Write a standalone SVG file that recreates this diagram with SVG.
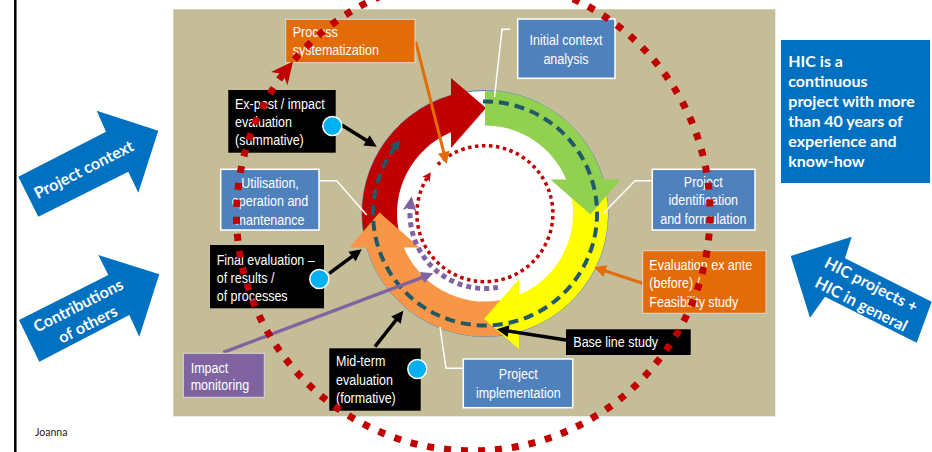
<svg xmlns="http://www.w3.org/2000/svg" width="932" height="452" viewBox="0 0 932 452">
<style>
.lb{font-family:"Liberation Sans",Arial,sans-serif;font-size:15px;fill:#fff}
.bt{font-family:Lato,"Open Sans",sans-serif;font-weight:bold;fill:#fff}
.bxb{fill:#4F81BD;stroke:#fff;stroke-width:1.5}
.bxo{fill:#E36C09;stroke:#D9D9D9;stroke-width:1}
.bxk{fill:#000}
.bxp{fill:#8064A2;stroke:#D9D9D9;stroke-width:1}
.dot{fill:#00B0F0;stroke:#fff;stroke-width:1.5}
.call{fill:none;stroke:#fff;stroke-width:1.5}
.blk{stroke:#000;stroke-width:3.5;marker-end:url(#hb)}
.org{stroke:#E36C09;stroke-width:3;marker-end:url(#ho)}
.pur{stroke:#8064A2;stroke-width:3.5;marker-end:url(#hp)}
.barrow{fill:#0070C0}
</style>
<defs>
<marker id="hb" markerUnits="userSpaceOnUse" markerWidth="14" markerHeight="14" refX="4" refY="6" orient="auto" overflow="visible"><path d="M0,0 L12,6 L0,12 Z" fill="#000"/></marker>
<marker id="ho" markerUnits="userSpaceOnUse" markerWidth="14" markerHeight="14" refX="4" refY="6" orient="auto" overflow="visible"><path d="M0,0 L12,6 L0,12 Z" fill="#E36C09"/></marker>
<marker id="hp" markerUnits="userSpaceOnUse" markerWidth="14" markerHeight="14" refX="4" refY="6" orient="auto" overflow="visible"><path d="M0,0 L12,6 L0,12 Z" fill="#8064A2"/></marker>
<marker id="ht" markerUnits="userSpaceOnUse" markerWidth="12" markerHeight="12" refX="6" refY="5" orient="auto" overflow="visible"><path d="M0,0 L10,5 L0,10 Z" fill="#215968"/></marker>
<marker id="hr" markerUnits="userSpaceOnUse" markerWidth="12" markerHeight="12" refX="5" refY="4.5" orient="auto" overflow="visible"><path d="M0,0 L9,4.5 L0,9 L2.5,4.5 Z" fill="#C00000"/></marker>
<marker id="hpd" markerUnits="userSpaceOnUse" markerWidth="16" markerHeight="16" refX="8" refY="7" orient="auto" overflow="visible"><path d="M0,0 L15,7 L0,14 L4,7 Z" fill="#8064A2"/></marker>
<marker id="hbig" markerUnits="userSpaceOnUse" markerWidth="24" markerHeight="24" refX="14" refY="10.5" orient="auto" overflow="visible"><path d="M0,0 L22,10.5 L0,21 L6,10.5 Z" fill="#C00000"/></marker>
</defs>
<rect width="932" height="452" fill="#fff"/>
<line x1="15.3" y1="0" x2="15.3" y2="452" stroke="#000" stroke-width="2.5"/>
<rect x="173.3" y="9.3" width="602" height="407" fill="#C4BD97"/>

<g id="project-context">
<polygon class="barrow" points="18.3,176.7 106,131.7 96.7,110.7 158.3,130.7 138.3,192.7 128.3,171.7 38.3,216.7"/>
<text class="bt" font-size="16" text-anchor="middle" transform="translate(84 170) rotate(-27)" y="5">Project context</text>
</g>
<g id="contributions">
<polygon class="barrow" points="19,320 108.3,275 98.3,255 159.3,274.3 139.3,336.7 129.3,315 39.3,361.7"/>
<text class="bt" font-size="16" text-anchor="middle" transform="translate(83 315) rotate(-27)"><tspan x="0" y="-5">Contributions</tspan><tspan x="0" y="16">of others</tspan></text>
</g>
<g id="hic-projects">
<polygon class="barrow" points="790.7,256 851.7,236.7 845,258.3 931.7,301.7 916.7,342.7 825,296.7 810,317.7"/>
<text class="bt" font-size="16" text-anchor="middle" transform="translate(866 295) rotate(27)"><tspan x="0" y="-6">HIC projects +</tspan><tspan x="0" y="16">HIC in general</tspan></text>
</g>
<g id="hic-box">
<rect x="781" y="40" width="149" height="143" fill="#0070C0"/>
<text class="bt" font-size="16"><tspan x="788.3" y="67">HIC is a</tspan><tspan x="788.3" y="87">continuous</tspan><tspan x="788.3" y="107">project with more</tspan><tspan x="788.3" y="127">than 40 years of</tspan><tspan x="788.3" y="147">experience and</tspan><tspan x="788.3" y="167">know-how</tspan></text>
</g>

<g id="cycle">
<circle cx="485" cy="213.5" r="123" fill="#fff" stroke="#4F81BD" stroke-width="1"/>
<path fill="#C00000" d="M364.7,239.1 A123,123 0 0 1 451,95.3 L451,78 L486,108 L451,148 L451,132.3 A88,88 0 0 0 398.9,231.8 Z"/>
<path fill="#F79646" transform="rotate(270 485 213.5)" d="M363.9,234.9 A123,123 0 0 1 451,95.3 L451,78 L486,108 L451,148 L451,132.3 A88,88 0 0 0 398.3,228.8 Z"/>
<path fill="#FFFF00" transform="rotate(180 485 213.5)" d="M363.9,234.9 A123,123 0 0 1 451,95.3 L451,78 L486,108 L451,148 L451,132.3 A88,88 0 0 0 398.3,228.8 Z"/>
<path fill="#92D050" transform="rotate(90 485 213.5)" d="M362,213.5 A123,123 0 0 1 451,95.3 L451,78 L486,108 L451,148 L451,132.3 A88,88 0 0 0 397,213.5 Z"/>
<path fill="none" stroke="#215968" stroke-width="4" stroke-dasharray="10 6" marker-end="url(#ht)" d="M483,101.5 A112,112 0 1 1 398,143"/>
<path fill="none" stroke="#C00000" stroke-width="3.5" stroke-dasharray="3.5 3.5" marker-end="url(#hr)" d="M437.8,164.6 A68,68 0 1 1 428.6,175.5"/>
<path fill="none" stroke="#8064A2" stroke-width="5" stroke-dasharray="5 4" marker-end="url(#hpd)" d="M498,287.4 A75,75 0 0 1 410.7,203.1"/>
</g>

<g id="connectors">
<polyline class="call" points="510,29.3 502,29.3 494.5,97"/>
<polyline class="call" points="652,180.7 635,180.7 603.3,213.3"/>
<polyline class="call" points="463,368.3 446,368.3 440,327"/>
<polyline class="call" points="320,180.7 336.7,180.7 366.7,215"/>
<line class="org" x1="415.7" y1="41.7" x2="444.7" y2="156.2"/>
<line class="org" x1="642.7" y1="283.3" x2="601.6" y2="269.8"/>
<line class="blk" x1="341.7" y1="125" x2="369.9" y2="142.5"/>
<line class="blk" x1="329.3" y1="273.3" x2="355.3" y2="254.1"/>
<line class="blk" x1="375" y1="346.7" x2="398.4" y2="317"/>
<line class="blk" x1="566" y1="340" x2="504.6" y2="330.5"/>
<line class="pur" x1="223.3" y1="352.3" x2="425.8" y2="276.1"/>
</g>

<g id="process-systematization">
<rect class="bxo" x="285.7" y="19.3" width="129.3" height="43.4"/>
<text class="lb" transform="translate(292.7 36.5) scale(0.835 1)"><tspan x="0">Process</tspan><tspan x="0" dy="18.5">systematization</tspan></text>
</g>
<g id="initial-context">
<rect class="bxb" x="517.7" y="19" width="97.3" height="59.3"/>
<text class="lb" text-anchor="middle" transform="translate(566 45) scale(0.835 1)"><tspan x="0">Initial context</tspan><tspan x="0" dy="19.3">analysis</tspan></text>
</g>
<g id="project-identification">
<rect class="bxb" x="652.3" y="169.3" width="102.7" height="60.7"/>
<text class="lb" text-anchor="middle" transform="translate(703.3 186.5) scale(0.835 1)"><tspan x="0">Project</tspan><tspan x="0" dy="18.7">identification</tspan><tspan x="0" dy="18.7">and formulation</tspan></text>
</g>
<g id="evaluation-ex-ante">
<rect class="bxo" x="642.7" y="250.7" width="123.3" height="62.6"/>
<text class="lb" transform="translate(649.3 270) scale(0.835 1)"><tspan x="0">Evaluation ex ante</tspan><tspan x="0" dy="18.5">(before) /</tspan><tspan x="0" dy="18.5">Feasibility study</tspan></text>
</g>
<g id="base-line-study">
<rect class="bxk" x="566" y="329.3" width="124.7" height="25.7"/>
<text class="lb" transform="translate(573.3 347) scale(0.835 1)">Base line study</text>
</g>
<g id="project-implementation">
<rect class="bxb" x="463.3" y="359" width="109.4" height="48.7"/>
<text class="lb" text-anchor="middle" transform="translate(518.3 379) scale(0.835 1)"><tspan x="0">Project</tspan><tspan x="0" dy="18.7">implementation</tspan></text>
</g>
<g id="mid-term">
<rect class="bxk" x="329.3" y="348.3" width="91.4" height="62.4"/>
<text class="lb" transform="translate(336 366) scale(0.835 1)"><tspan x="0">Mid-term</tspan><tspan x="0" dy="18.7">evaluation</tspan><tspan x="0" dy="18.7">(formative)</tspan></text>
<circle class="dot" cx="417.3" cy="369" r="9.5"/>
</g>
<g id="impact-monitoring">
<rect class="bxp" x="183.3" y="353.3" width="81" height="44"/>
<text class="lb" transform="translate(190.7 372.5) scale(0.835 1)"><tspan x="0">Impact</tspan><tspan x="0" dy="18">monitoring</tspan></text>
</g>
<g id="final-evaluation">
<rect class="bxk" x="210" y="245" width="114" height="63.3"/>
<text class="lb" transform="translate(216.7 264.5) scale(0.835 1)"><tspan x="0">Final evaluation –</tspan><tspan x="0" dy="18.5">of results /</tspan><tspan x="0" dy="18.5">of processes</tspan></text>
<circle class="dot" cx="319.3" cy="279" r="9.5"/>
</g>
<g id="utilisation">
<rect class="bxb" x="220.7" y="169.3" width="98.3" height="60.7"/>
<text class="lb" text-anchor="middle" transform="translate(270 188) scale(0.835 1)"><tspan x="0">Utilisation,</tspan><tspan x="0" dy="18.3">operation and</tspan><tspan x="0" dy="18.3">mantenance</tspan></text>
</g>
<g id="ex-post">
<rect class="bxk" x="228.3" y="90" width="107.4" height="62.7"/>
<text class="lb" transform="translate(235 108.5) scale(0.835 1)"><tspan x="0">Ex-post / impact</tspan><tspan x="0" dy="18.4">evaluation</tspan><tspan x="0" dy="18.4">(summative)</tspan></text>
<circle class="dot" cx="332.3" cy="126" r="9.5"/>
</g>

<g id="outer-loop">
<path fill="none" stroke="#C00000" stroke-width="7" stroke-dasharray="7 10" marker-end="url(#hbig)" d="M294.5,59.7 A236,236 0 0 1 653.5,366.3 A236,236 0 0 1 288,67.7"/>
</g>

<text x="35" y="436" font-family="Lato,sans-serif" font-size="10.5" fill="#222">Joanna</text>
</svg>
